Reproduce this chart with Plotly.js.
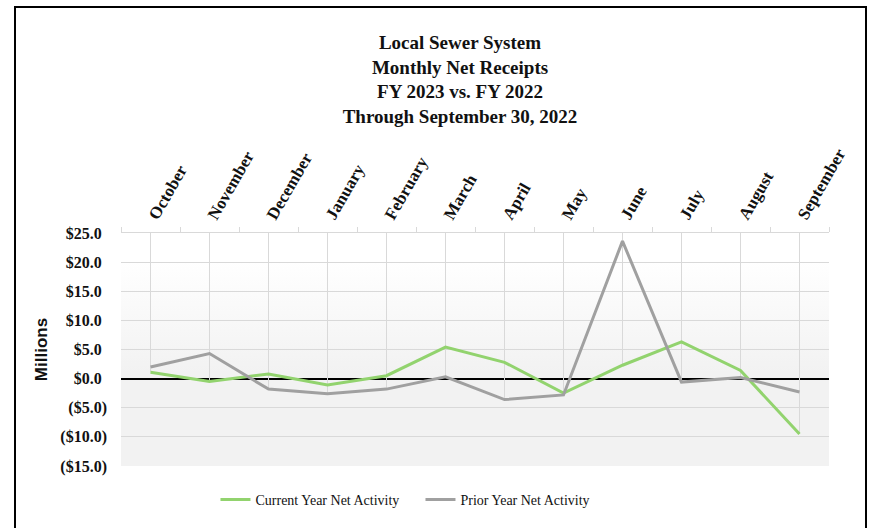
<!DOCTYPE html>
<html>
<head>
<meta charset="utf-8">
<script src="https://cdn.plot.ly/plotly-3.0.1.min.js"></script>
<style>
  html, body { margin: 0; padding: 0; background: #ffffff; }
  #wrap { position: relative; width: 871px; height: 528px; overflow: hidden; }
  #chart { position: absolute; left: 0; top: 0; width: 871px; height: 528px; }
  #frame { position: absolute; left: 14px; top: 6px; width: 853px; height: 540px;
           border: 2px solid #000; pointer-events: none; box-sizing: border-box; }
</style>
</head>
<body>
<div id="wrap">
  <div id="chart"></div>
  <div id="frame"></div>
</div>
<script>
// ---- data (millions of dollars) ----
var months = ["October", "November", "December", "January", "February", "March",
              "April", "May", "June", "July", "August", "September"];
var currentYear = [1.1, -0.5, 0.8, -1.1, 0.5, 5.4, 2.8, -2.5, 2.3, 6.3, 1.4, -9.5];
var priorYear   = [2.0, 4.3, -1.8, -2.6, -1.8, 0.3, -3.6, -2.8, 23.6, -0.6, 0.2, -2.3];
var yTickValues = [25, 20, 15, 10, 5, 0, -5, -10, -15];
var seriesNames = ["Current Year Net Activity", "Prior Year Net Activity"];
var titleLines  = ["Local Sewer System", "Monthly Net Receipts", "FY 2023 vs. FY 2022", "Through September 30, 2022"];

var yTop = 25, yBottom = -15;

function fmtTick(v) {
  var s = "$" + Math.abs(v).toFixed(1);
  if (v < 0) return "(" + s + ")";
  return s + "<span style='color:rgba(0,0,0,0)'>)</span>";
}
var yTickText = yTickValues.map(fmtTick);

// drop lines from each category's lowest point up to the category axis (at the top)
var lowest = currentYear.map(function (v, i) { return Math.min(v, priorYear[i]); });
var dropUp = lowest.map(function (v) { return yTop - v; });

var traces = [
  {
    x: months, y: lowest, type: "scatter", mode: "none",
    showlegend: false, hoverinfo: "skip",
    error_y: { type: "data", symmetric: false, array: dropUp,
               arrayminus: lowest.map(function () { return 0; }),
               color: "#d9d9d9", thickness: 1, width: 0 }
  },
  {
    x: months, y: currentYear, type: "scatter", mode: "lines",
    name: seriesNames[0],
    line: { color: "#92d36e", width: 3 }
  },
  {
    x: months, y: priorYear, type: "scatter", mode: "lines",
    name: seriesNames[1],
    line: { color: "#a0a0a0", width: 3 }
  }
];

var grad = '<svg xmlns="http://www.w3.org/2000/svg" width="100" height="100" preserveAspectRatio="none">' +
  '<defs><linearGradient id="g" x1="0" y1="0" x2="0" y2="1">' +
  '<stop offset="0" stop-color="#ffffff"/><stop offset="0.12" stop-color="#ffffff"/>' +
  '<stop offset="0.6" stop-color="#f2f2f2"/><stop offset="1" stop-color="#f2f2f2"/>' +
  '</linearGradient></defs><rect width="100" height="100" fill="url(#g)"/></svg>';

var serif = "Liberation Serif, Times New Roman, serif";

var layout = {
  width: 871, height: 528,
  margin: { l: 121, r: 42, t: 233, b: 60 },
  paper_bgcolor: "rgba(0,0,0,0)",
  plot_bgcolor: "rgba(0,0,0,0)",
  title: {
    text: titleLines.join("<br>"),
    font: { family: serif, size: 19, color: "#111111", weight: "bold" },
    xref: "container", x: 460 / 871, xanchor: "center",
    yref: "container", y: 1 - 49 / 528, yanchor: "top"
  },
  xaxis: {
    type: "category",
    side: "top",
    range: [-0.5, months.length - 0.5],
    showgrid: false,
    showline: true, linecolor: "#d9d9d9", linewidth: 1,
    ticks: "outside", tickson: "boundaries", ticklen: 5, tickcolor: "#d9d9d9",
    tickangle: -60,
    tickfont: { family: serif, size: 17, color: "#111111", weight: "bold" },
    zeroline: false, fixedrange: true
  },
  yaxis: {
    range: [yBottom, yTop],
    tickvals: yTickValues, ticktext: yTickText,
    showgrid: true, gridcolor: "#d9d9d9", gridwidth: 1,
    zeroline: true, zerolinecolor: "#000000", zerolinewidth: 2,
    ticks: "", ticklabelstandoff: 13,
    tickfont: { family: serif, size: 16, color: "#111111", weight: "bold" },
    title: { text: "Millions", font: { family: "Liberation Sans, Arial, sans-serif", size: 17, color: "#111111", weight: "bold" }, standoff: 8 },
    fixedrange: true
  },
  legend: {
    orientation: "h", x: 0.423, xanchor: "center", y: -0.145, yanchor: "middle",
    font: { family: serif, size: 14, color: "#111111" },
    entrywidth: 160,
    bgcolor: "rgba(0,0,0,0)"
  },
  images: [{
    source: "data:image/svg+xml;charset=utf-8," + encodeURIComponent(grad),
    xref: "paper", yref: "paper", x: 0, y: 1, sizex: 1, sizey: 1,
    xanchor: "left", yanchor: "top", sizing: "stretch", layer: "below"
  }],
  showlegend: true
};

Plotly.newPlot("chart", traces, layout, { displayModeBar: false, staticPlot: true });
</script>
</body>
</html>
